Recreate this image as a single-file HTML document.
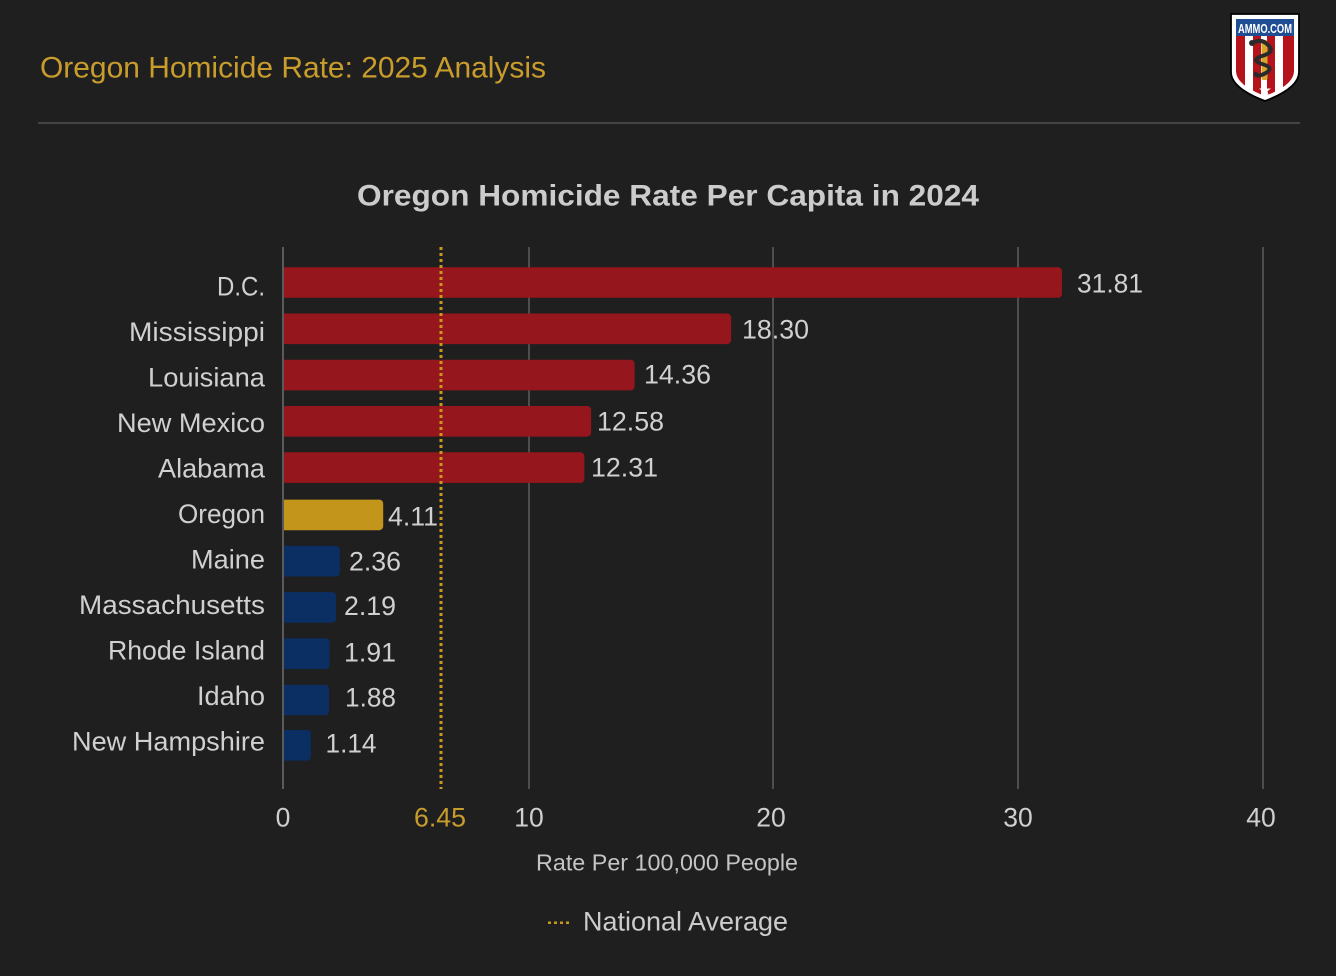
<!DOCTYPE html>
<html>
<head>
<meta charset="utf-8">
<style>
  html,body{margin:0;padding:0;background:#1f1f1f;}
  body{width:1336px;height:976px;overflow:hidden;}
  svg{display:block;}
  text{font-family:"Liberation Sans",Arial,sans-serif;}
</style>
</head>
<body>
<svg width="1336" height="976" viewBox="0 0 1336 976" xmlns="http://www.w3.org/2000/svg">
  <rect x="0" y="0" width="1336" height="976" fill="#1f1f1f"/>

  <!-- Header -->
  <text x="40" y="77.5" font-size="30" fill="#c99d2c" textLength="506" lengthAdjust="spacingAndGlyphs">Oregon Homicide Rate: 2025 Analysis</text>
  <rect x="38" y="122" width="1262" height="2" fill="#444444"/>

  <!-- Logo -->
  <defs>
    <clipPath id="shieldIn">
      <path d="M1236,19 L1294,19 L1294,71 Q1294,85 1265,96 Q1236,85 1236,71 Z"/>
    </clipPath>
  </defs>
  <path d="M1231,14 L1299,14 L1299,72 Q1299,88 1265,101 Q1231,88 1231,72 Z" fill="#ffffff" stroke="#000000" stroke-width="1.8"/>
  <g clip-path="url(#shieldIn)">
    <rect x="1236" y="19" width="58" height="80" fill="#ffffff"/>
    <rect x="1236" y="36" width="9" height="62" fill="#b5121b"/>
    <rect x="1253" y="36" width="8" height="62" fill="#b5121b"/>
    <rect x="1267" y="36" width="8" height="62" fill="#b5121b"/>
    <rect x="1283" y="36" width="11" height="62" fill="#b5121b"/>
    <rect x="1236" y="19" width="58" height="17" fill="#1f4e94"/>
  </g>
  <text x="1265" y="33" font-size="13" font-weight="bold" fill="#ffffff" text-anchor="middle" textLength="54" lengthAdjust="spacingAndGlyphs">AMMO.COM</text>
  <rect x="1261.5" y="40" width="6" height="40" rx="2" fill="#d4a82a"/>
  <path d="M1252,43 Q1262,38 1268,45 Q1276,52 1262,56 Q1250,60 1262,64 Q1276,68 1264,74 Q1254,78 1256,72" fill="none" stroke="#2a2a2a" stroke-width="4"/>
  <circle cx="1252" cy="43" r="3" fill="#2a2a2a"/>
  <polygon points="1265,84 1266.6,88.5 1271,88.5 1267.5,91.3 1268.8,95.8 1265,93 1261.2,95.8 1262.5,91.3 1259,88.5 1263.4,88.5" fill="#ffffff"/>

  <!-- Chart title -->
  <text x="357" y="205.5" font-size="30" font-weight="bold" fill="#cccccc" textLength="622" lengthAdjust="spacingAndGlyphs">Oregon Homicide Rate Per Capita in 2024</text>

  <!-- Gridlines -->
  <g stroke="#4e4e4e" stroke-width="2">
    <line x1="283" y1="247" x2="283" y2="789" stroke="#5a5a5a"/>
    <line x1="529" y1="247" x2="529" y2="789"/>
    <line x1="773" y1="247" x2="773" y2="789"/>
    <line x1="1018" y1="247" x2="1018" y2="789"/>
    <line x1="1263" y1="247" x2="1263" y2="789"/>
  </g>

  <!-- Bars -->
  <g>
    <path d="M284,267.2 H1058 a4,4 0 0 1 4,4 V293.8 a4,4 0 0 1 -4,4 H284 Z" fill="#96161d"/>
    <path d="M284,313.5 H727.1 a4,4 0 0 1 4,4 V340.1 a4,4 0 0 1 -4,4 H284 Z" fill="#96161d"/>
    <path d="M284,359.8 H630.6 a4,4 0 0 1 4,4 V386.4 a4,4 0 0 1 -4,4 H284 Z" fill="#96161d"/>
    <path d="M284,406.0 H587.1 a4,4 0 0 1 4,4 V432.6 a4,4 0 0 1 -4,4 H284 Z" fill="#96161d"/>
    <path d="M284,452.3 H580.4 a4,4 0 0 1 4,4 V478.9 a4,4 0 0 1 -4,4 H284 Z" fill="#96161d"/>
    <path d="M284,499.6 H379.2 a4,4 0 0 1 4,4 V526.2 a4,4 0 0 1 -4,4 H284 Z" fill="#c4951b"/>
    <path d="M284,545.9 H335.8 a4,4 0 0 1 4,4 V572.5 a4,4 0 0 1 -4,4 H284 Z" fill="#0b2f63"/>
    <path d="M284,592.1 H332.1 a4,4 0 0 1 4,4 V618.7 a4,4 0 0 1 -4,4 H284 Z" fill="#0b2f63"/>
    <path d="M284,638.4 H325.6 a4,4 0 0 1 4,4 V665.0 a4,4 0 0 1 -4,4 H284 Z" fill="#0b2f63"/>
    <path d="M284,684.7 H325 a4,4 0 0 1 4,4 V711.3 a4,4 0 0 1 -4,4 H284 Z" fill="#0b2f63"/>
    <path d="M284,730.0 H306.9 a4,4 0 0 1 4,4 V756.6 a4,4 0 0 1 -4,4 H284 Z" fill="#0b2f63"/>
  </g>

  <!-- National average dotted line -->
  <line x1="441" y1="247" x2="441" y2="789" stroke="#c9981e" stroke-width="3" stroke-dasharray="3 3"/>

  <!-- Category labels -->
  <g font-size="26.5" fill="#d0d0d0" text-anchor="end">
    <text x="265" y="295.7" textLength="48" lengthAdjust="spacingAndGlyphs">D.C.</text>
    <text x="265" y="341.2" textLength="136" lengthAdjust="spacingAndGlyphs">Mississippi</text>
    <text x="265" y="386.7" textLength="117" lengthAdjust="spacingAndGlyphs">Louisiana</text>
    <text x="265" y="432.2" textLength="148" lengthAdjust="spacingAndGlyphs">New Mexico</text>
    <text x="265" y="477.7" textLength="107" lengthAdjust="spacingAndGlyphs">Alabama</text>
    <text x="265" y="523.2" textLength="87" lengthAdjust="spacingAndGlyphs">Oregon</text>
    <text x="265" y="568.7" textLength="74" lengthAdjust="spacingAndGlyphs">Maine</text>
    <text x="265" y="614.2" textLength="186" lengthAdjust="spacingAndGlyphs">Massachusetts</text>
    <text x="265" y="659.7" textLength="157" lengthAdjust="spacingAndGlyphs">Rhode Island</text>
    <text x="265" y="705.2" textLength="68" lengthAdjust="spacingAndGlyphs">Idaho</text>
    <text x="265" y="750.7" textLength="193" lengthAdjust="spacingAndGlyphs">New Hampshire</text>
  </g>

  <!-- Value labels -->
  <g font-size="26.5" fill="#d0d0d0">
    <text x="1077" y="292.5" textLength="66" lengthAdjust="spacingAndGlyphs">31.81</text>
    <text x="742" y="338.5" textLength="67" lengthAdjust="spacingAndGlyphs">18.30</text>
    <text x="644" y="383.5" textLength="67" lengthAdjust="spacingAndGlyphs">14.36</text>
    <text x="597" y="430.5" textLength="67" lengthAdjust="spacingAndGlyphs">12.58</text>
    <text x="591" y="476.5" textLength="67" lengthAdjust="spacingAndGlyphs">12.31</text>
    <text x="388" y="525.7" textLength="50" lengthAdjust="spacingAndGlyphs">4.11</text>
    <text x="349" y="570.7" textLength="52" lengthAdjust="spacingAndGlyphs">2.36</text>
    <text x="344" y="615" textLength="52" lengthAdjust="spacingAndGlyphs">2.19</text>
    <text x="344" y="661.5" textLength="52" lengthAdjust="spacingAndGlyphs">1.91</text>
    <text x="345" y="706.7" textLength="51" lengthAdjust="spacingAndGlyphs">1.88</text>
    <text x="325.5" y="752.7" textLength="51" lengthAdjust="spacingAndGlyphs">1.14</text>
  </g>

  <!-- Tick labels -->
  <g font-size="26.5" fill="#cfcfcf" text-anchor="middle">
    <text x="283" y="826.7">0</text>
    <text x="529" y="826.7">10</text>
    <text x="771" y="826.7">20</text>
    <text x="1018" y="826.7">30</text>
    <text x="1261" y="826.7">40</text>
  </g>
  <text x="440" y="826.7" font-size="26.5" fill="#c99d2c" text-anchor="middle" textLength="52" lengthAdjust="spacingAndGlyphs">6.45</text>

  <!-- Axis title -->
  <text x="667" y="870.7" font-size="23.5" fill="#c4c4c4" text-anchor="middle" textLength="262" lengthAdjust="spacingAndGlyphs">Rate Per 100,000 People</text>

  <!-- Legend -->
  <line x1="548" y1="922.7" x2="572" y2="922.7" stroke="#c9981e" stroke-width="2.5" stroke-dasharray="3 3"/>
  <text x="583" y="930.7" font-size="27" fill="#cccccc" textLength="205" lengthAdjust="spacingAndGlyphs">National Average</text>
</svg>
</body>
</html>
